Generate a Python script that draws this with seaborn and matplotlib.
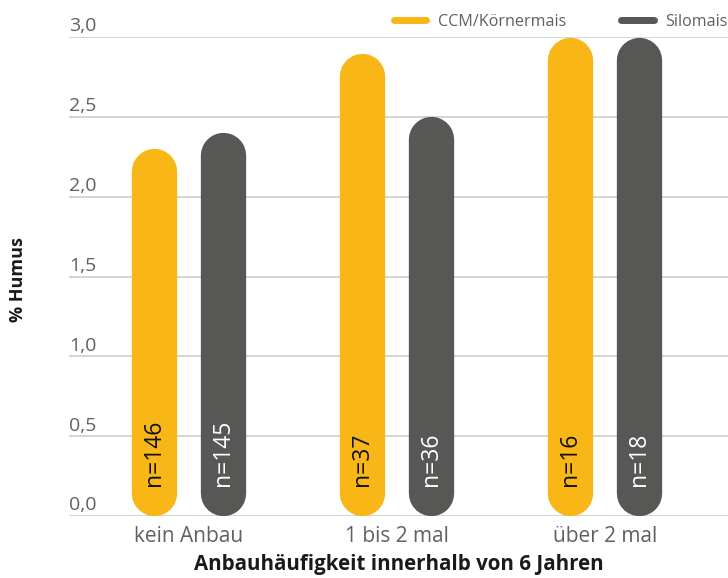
import numpy as np
import pandas as pd
import matplotlib
matplotlib.use("Agg")
import matplotlib.pyplot as plt
import seaborn as sns
from matplotlib.lines import Line2D

# data
gruppen = ["kein Anbau", "1 bis 2 mal", "über 2 mal"]
sorten = ["CCM/Körnermais", "Silomais"]
ccm = [2.3, 2.9, 3.0]
silo = [2.4, 2.5, 3.0]
n_ccm = [146, 37, 16]
n_silo = [145, 36, 18]
yticks = [0.0, 0.5, 1.0, 1.5, 2.0, 2.5, 3.0]
ytick_labels = ["0,0", "0,5", "1,0", "1,5", "2,0", "2,5", "3,0"]

farben = ["#F9B617", "#575756"]
textfarben = ["#111111", "#ffffff"]

df = pd.DataFrame({
    "gruppe": gruppen * 2,
    "sorte": [sorten[0]] * 3 + [sorten[1]] * 3,
    "humus": ccm + silo,
    "n": n_ccm + n_silo,
})

sns.set_theme(style="white")
plt.rcParams["font.family"] = ["Open Sans", "DejaVu Sans"]

fig = plt.figure(figsize=(7.28, 5.78), dpi=100)
ax = fig.add_axes([69 / 728, 62 / 578, 659 / 728, 479 / 578])

sns.barplot(data=df, x="gruppe", y="humus", hue="sorte", order=gruppen,
            hue_order=sorten, palette=farben, saturation=1, width=0.66, gap=0.34,
            errorbar=None, legend=False, ax=ax)
ax.set_xlim(-0.575, 2.593)
ax.set_ylim(0, 3.0)

# grid + y labels sitting above the lines
ax.set_yticks(yticks)
ax.set_yticklabels([])
ax.yaxis.grid(True, color="#c9c9c9", lw=1.1)
ax.set_axisbelow(True)
ax.tick_params(axis="both", length=0)
for y, lab in zip(yticks, ytick_labels):
    ax.annotate(lab, xy=(0, y), xycoords=ax.get_yaxis_transform(),
                xytext=(0, 4), textcoords="offset points",
                ha="left", va="baseline", fontsize=14, color="#606060")
for s in ax.spines.values():
    s.set_visible(False)

# turn the bars into capsules
px_per_y = ax.transData.transform((0, 1))[1] - ax.transData.transform((0, 0))[1]
patches = sorted(ax.patches, key=lambda p: p.get_x())
for p in patches:
    x0, w, h = p.get_x(), p.get_width(), p.get_height()
    if h == 0:
        continue
    xc = x0 + w / 2
    wpx = ax.transData.transform((x0 + w, 0))[0] - ax.transData.transform((x0, 0))[0]
    r = (wpx / 2) / px_per_y
    ax.plot([xc, xc], [r, h - r], color=p.get_facecolor(), lw=wpx * 72 / fig.dpi,
            solid_capstyle="round", clip_on=False, zorder=3)
    p.set_visible(False)
    # find matching row for the n label
    gi = int(round(xc))
    si = 0 if xc < gi else 1
    nval = df[(df["gruppe"] == gruppen[gi]) & (df["sorte"] == sorten[si])]["n"].iloc[0]
    ax.text(xc, 0.19, f"n={nval}", rotation=90, ha="center", va="bottom",
            fontsize=16.5, color=textfarben[si], zorder=4)

ax.set_xticks(range(len(gruppen)))
ax.set_xticklabels(gruppen, fontsize=15, color="#606060")
ax.tick_params(axis="x", pad=7)
ax.set_xlabel("Anbauhäufigkeit innerhalb von 6 Jahren", fontsize=14.8,
              fontweight="bold", color="#1a1a1a", labelpad=5)
ax.set_ylabel("")
fig.text(18 / 728, 1 - 280 / 578, "% Humus", rotation=90, ha="center",
         va="center", fontsize=13, fontweight="bold", color="#1a1a1a")

handles = [Line2D([0], [0], color=c, lw=5, solid_capstyle="round") for c in farben]
fig.legend(handles, sorten, loc="center right", bbox_to_anchor=(1.0, 1 - 22 / 578),
           ncol=2, frameon=False, fontsize=11.6, handlelength=2.0,
           handletextpad=0.75, columnspacing=3.4, borderpad=0, borderaxespad=0,
           labelcolor="#606060")

fig.savefig("out.png", dpi=100)
